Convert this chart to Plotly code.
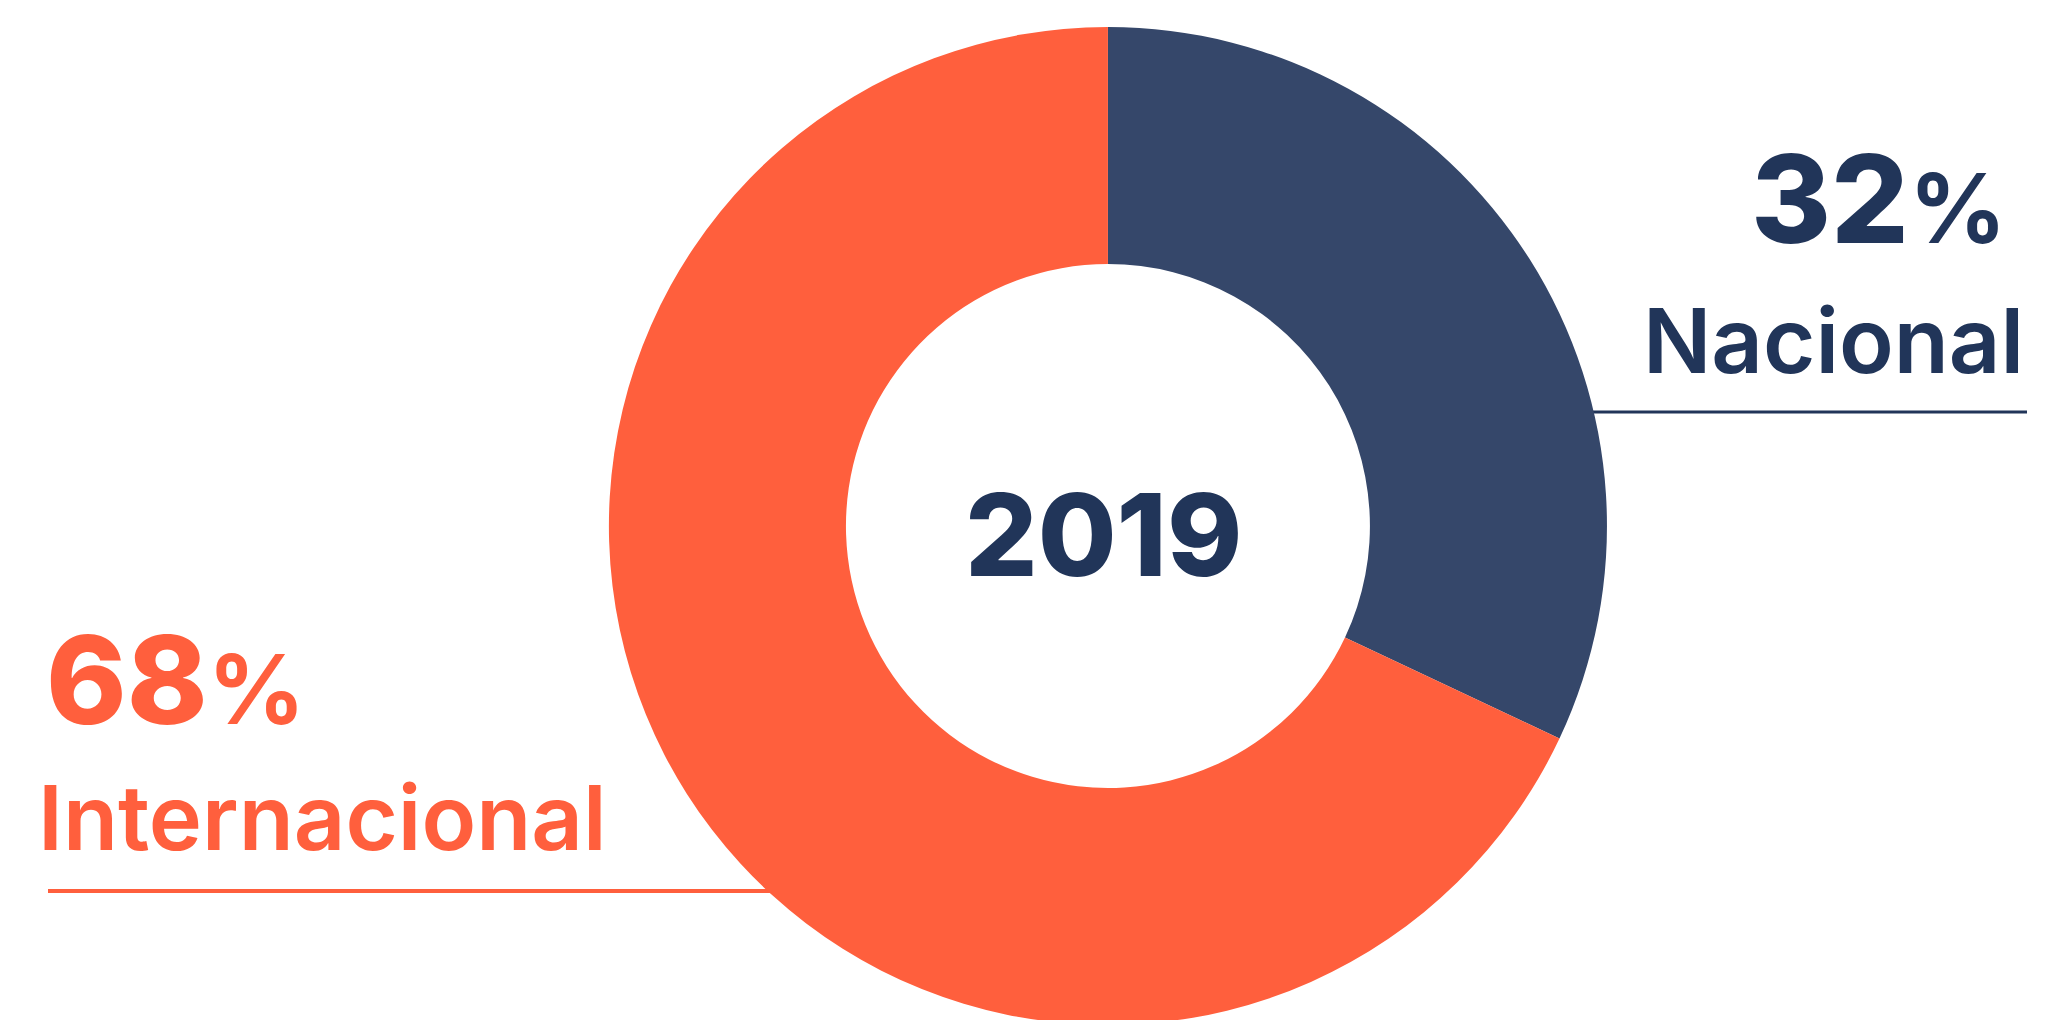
import plotly.graph_objects as go

# Data
labels = ["Nacional", "Internacional"]
values = [32, 68]
colors = ["#35476A", "#FF5F3D"]
center_label = "2019"

DARK = "#213559"
ORANGE = "#FF5F3D"
FONT = "Inter"

W, H = 2060, 1020

fig = go.Figure()
fig.add_trace(go.Pie(
    labels=labels,
    values=values,
    hole=0.525,
    sort=False,
    direction="clockwise",
    rotation=0,
    marker=dict(colors=colors, line=dict(width=0)),
    textinfo="none",
    hoverinfo="label+percent",
    showlegend=False,
    domain=dict(x=[0.2917, 0.7762], y=[0.0029, 0.9814]),
))

def pct_text(v):
    return (f"<span style='font-weight:800'>{v}</span>"
            f"<span style='font-size:96px;font-weight:700'>%</span>")

annotations = [
    dict(text=f"<span style='font-weight:800'>{center_label}</span>",
         x=0.5316, y=0.484, xref="paper", yref="paper",
         xanchor="center", yanchor="middle", showarrow=False,
         font=dict(family=FONT, size=114, color=DARK)),
    # Nacional
    dict(text=pct_text(values[0]), x=2000 / W, y=1 - 190 / H, xref="paper", yref="paper",
         xanchor="right", yanchor="middle", showarrow=False,
         font=dict(family=FONT, size=122, color=DARK)),
    dict(text=labels[0], x=2018 / W, y=1 - 333 / H, xref="paper", yref="paper",
         xanchor="right", yanchor="middle", showarrow=False,
         font=dict(family=FONT, size=90, color=DARK, weight=600)),
    # Internacional
    dict(text=pct_text(values[1]), x=36 / W, y=1 - 671 / H, xref="paper", yref="paper",
         xanchor="left", yanchor="middle", showarrow=False,
         font=dict(family=FONT, size=122, color=ORANGE)),
    dict(text=labels[1], x=28 / W, y=1 - 809 / H, xref="paper", yref="paper",
         xanchor="left", yanchor="middle", showarrow=False,
         font=dict(family=FONT, size=90, color=ORANGE, weight=600)),
]

shapes = [
    dict(type="line", xref="paper", yref="paper", layer="below",
         x0=1450 / W, x1=2019 / W, y0=1 - 404 / H, y1=1 - 404 / H,
         line=dict(color=DARK, width=3)),
    dict(type="line", xref="paper", yref="paper", layer="below",
         x0=40 / W, x1=900 / W, y0=1 - 883 / H, y1=1 - 883 / H,
         line=dict(color=ORANGE, width=4)),
]

fig.update_layout(
    width=W, height=H,
    margin=dict(l=0, r=0, t=0, b=0),
    paper_bgcolor="white", plot_bgcolor="white",
    annotations=annotations,
    shapes=shapes,
)

fig.write_html("out.html")
